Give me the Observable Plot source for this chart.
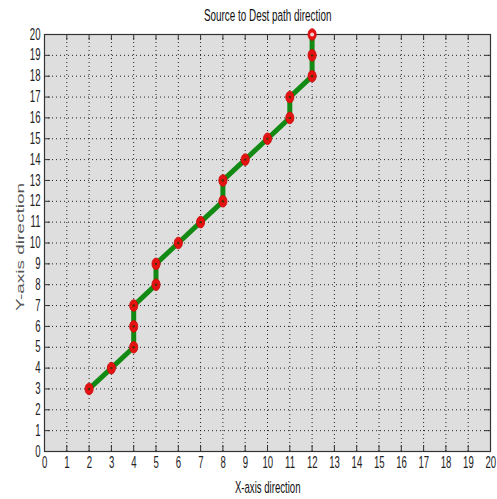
<!DOCTYPE html>
<html><head><meta charset="utf-8">
<script src="https://cdn.jsdelivr.net/npm/d3@7"></script>
<script src="https://cdn.jsdelivr.net/npm/@observablehq/plot@0.6"></script>
<style>body{margin:0;background:#fff}</style>
</head><body><div id="chart"></div>
<script>
const pathX = [2,3,4,4,4,5,5,6,7,8,8,9,10,11,11,12,12,12];
const pathY = [3,4,5,6,7,8,9,10,11,12,13,14,15,16,17,18,19,20];
const xTicks = [0,1,2,3,4,5,6,7,8,9,10,11,12,13,14,15,16,17,18,19,20];
const yTicks = [0,1,2,3,4,5,6,7,8,9,10,11,12,13,14,15,16,17,18,19,20];
const titleText = "Source to Dest path direction";
const xLabel = "X-axis direction";
const yLabel = "Y-axis direction";

const data = pathX.map((x, i) => ({x, y: pathY[i]}));
const W = 497, H = 499, mL = 44, mR = 7, mT = 34, mB = 48;
const fw = W - mL - mR, fh = H - mT - mB, tk = 6;
const font = "'Liberation Sans', Arial, sans-serif";
const SQ = 0.6; // horizontal squish of the reference text

const chart = Plot.plot({
  width: W, height: H,
  marginLeft: mL, marginRight: mR, marginTop: mT, marginBottom: mB,
  style: {fontFamily: font, fontSize: "16px", color: "#222", background: "#fff"},
  x: {domain: [0, 20], ticks: xTicks, tickSize: 0, tickPadding: 5, label: null},
  y: {domain: [0, 20], ticks: yTicks, tickSize: 0, tickPadding: 3, label: null},
  marks: [
    Plot.frame({fill: "#dedede", stroke: null}),
    Plot.ruleX(xTicks.slice(1, -1), {x: d => d, stroke: "#000", strokeOpacity: 0.85, strokeWidth: 1, strokeDasharray: "1,3"}),
    Plot.ruleY(yTicks.slice(1, -1), {y: d => d, stroke: "#000", strokeOpacity: 0.85, strokeWidth: 1, strokeDasharray: "1,3"}),
    Plot.ruleX(xTicks, {x: d => d, stroke: "#333", insetTop: fh - tk}),
    Plot.ruleX(xTicks, {x: d => d, stroke: "#333", insetBottom: fh - tk}),
    Plot.ruleY(yTicks, {y: d => d, stroke: "#333", insetRight: fw - tk}),
    Plot.ruleY(yTicks, {y: d => d, stroke: "#333", insetLeft: fw - tk}),
    Plot.frame({stroke: "#333", strokeWidth: 1.2}),
    Plot.line(data, {x: "x", y: "y", stroke: "#138a13", strokeWidth: 5}),
    Plot.dot(data, {x: "x", y: "y", r: 5.8, fill: "#e41212", stroke: "#cc0a0a", strokeWidth: 1, className: "mk"}),
    Plot.dot(data, {x: "x", y: "y", r: 1.2, fill: "#4a3000"}),
    Plot.dot(data.slice(-1), {x: "x", y: "y", r: 2, fill: "#f4d0d0"}),
    Plot.text([titleText], {text: d => d, frameAnchor: "top", dy: -25, fontSize: 16.5, fill: "#111"}),
    Plot.text([xLabel], {text: d => d, frameAnchor: "bottom", dy: 41, fontSize: 16, fill: "#111"}),
    Plot.text([yLabel], {text: d => d, frameAnchor: "left", textAnchor: "middle", lineAnchor: "middle", dx: -24.5, dy: 4, rotate: -90, fontSize: 19, fill: "#555", className: "ylab"})
  ]
});
document.getElementById("chart").append(chart);

// squish text horizontally like the reference (which is a horizontally compressed image)
const svgRect = chart.getBoundingClientRect();
chart.querySelectorAll("text").forEach(t => {
  if (t.closest(".ylab")) {
    const tr = t.getAttribute("transform") || "";
    t.setAttribute("transform", tr + ` scale(1,${SQ})`);
    return;
  }
  const b = t.getBoundingClientRect();
  const inY = t.closest('g[aria-label="y-axis tick label"]');
  const ox = (inY ? b.right : b.left + b.width / 2) - svgRect.left;
  const g = document.createElementNS("http://www.w3.org/2000/svg", "g");
  g.setAttribute("transform", `translate(${ox},0) scale(${SQ},1) translate(${-ox},0)`);
  t.parentNode.insertBefore(g, t);
  g.appendChild(t);
});
// markers are ellipses (taller than wide) in the reference
chart.querySelectorAll(".mk circle").forEach(c => {
  const cx = +c.getAttribute("cx"), cy = +c.getAttribute("cy");
  if (!isNaN(cx)) c.setAttribute("transform", `translate(${cx},${cy}) scale(0.7,1) translate(${-cx},${-cy})`);
});
</script>
</body></html>
